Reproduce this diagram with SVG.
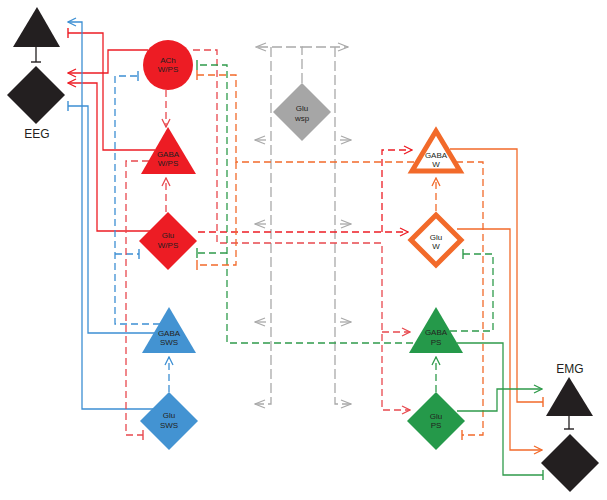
<svg xmlns="http://www.w3.org/2000/svg" width="607" height="500" viewBox="0 0 607 500">
<style>
.ln{fill:none;stroke-width:1.3}
.d{stroke-dasharray:7 4}
.dg{stroke-dasharray:10 4}
.r{stroke:#ed1c24}.rp{stroke:#e8484e}.b{stroke:#3c8fd3}.g{stroke:#2f9b4b}.o{stroke:#f26a2a}.gr{stroke:#a9a9a9}.k{stroke:#231f20}
.lbl{font-family:"Liberation Sans",Arial,sans-serif;font-size:8px;fill:#231f20;text-anchor:middle}
.big{font-family:"Liberation Sans",Arial,sans-serif;font-size:12px;fill:#231f20;text-anchor:middle}
</style>
<defs>
<marker id="aR" markerUnits="userSpaceOnUse" viewBox="0 0 10 10" refX="9" refY="5" markerWidth="10" markerHeight="10" orient="auto"><path d="M1,1 L9,5 L1,9" fill="none" stroke="#ed1c24" stroke-width="1.3"/></marker>
<marker id="aRp" markerUnits="userSpaceOnUse" viewBox="0 0 10 10" refX="9" refY="5" markerWidth="10" markerHeight="10" orient="auto"><path d="M1,1 L9,5 L1,9" fill="none" stroke="#e8484e" stroke-width="1.3"/></marker>
<marker id="aB" markerUnits="userSpaceOnUse" viewBox="0 0 10 10" refX="9" refY="5" markerWidth="10" markerHeight="10" orient="auto"><path d="M1,1 L9,5 L1,9" fill="none" stroke="#3c8fd3" stroke-width="1.3"/></marker>
<marker id="aG" markerUnits="userSpaceOnUse" viewBox="0 0 10 10" refX="9" refY="5" markerWidth="10" markerHeight="10" orient="auto"><path d="M1,1 L9,5 L1,9" fill="none" stroke="#2f9b4b" stroke-width="1.3"/></marker>
<marker id="aO" markerUnits="userSpaceOnUse" viewBox="0 0 10 10" refX="9" refY="5" markerWidth="10" markerHeight="10" orient="auto"><path d="M1,1 L9,5 L1,9" fill="none" stroke="#f26a2a" stroke-width="1.3"/></marker>
<marker id="aGr" markerUnits="userSpaceOnUse" viewBox="0 0 12 10" refX="11" refY="5" markerWidth="12" markerHeight="10" orient="auto"><path d="M1,1 L11,5 L1,9" fill="none" stroke="#a9a9a9" stroke-width="1.3"/></marker>
<marker id="tR" markerUnits="userSpaceOnUse" viewBox="0 0 4 12" refX="2" refY="6" markerWidth="4" markerHeight="12" orient="auto"><path d="M2,1 L2,11" stroke="#ed1c24" stroke-width="1.4"/></marker>
<marker id="tRp" markerUnits="userSpaceOnUse" viewBox="0 0 4 12" refX="2" refY="6" markerWidth="4" markerHeight="12" orient="auto"><path d="M2,1 L2,11" stroke="#e8484e" stroke-width="1.4"/></marker>
<marker id="tB" markerUnits="userSpaceOnUse" viewBox="0 0 4 12" refX="2" refY="6" markerWidth="4" markerHeight="12" orient="auto"><path d="M2,1 L2,11" stroke="#3c8fd3" stroke-width="1.4"/></marker>
<marker id="tG" markerUnits="userSpaceOnUse" viewBox="0 0 4 12" refX="2" refY="6" markerWidth="4" markerHeight="12" orient="auto"><path d="M2,1 L2,11" stroke="#2f9b4b" stroke-width="1.4"/></marker>
<marker id="tO" markerUnits="userSpaceOnUse" viewBox="0 0 4 12" refX="2" refY="6" markerWidth="4" markerHeight="12" orient="auto"><path d="M2,1 L2,11" stroke="#f26a2a" stroke-width="1.4"/></marker>
<marker id="tK" markerUnits="userSpaceOnUse" viewBox="0 0 4 12" refX="2" refY="6" markerWidth="4" markerHeight="12" orient="auto"><path d="M2,1 L2,11" stroke="#231f20" stroke-width="1.4"/></marker>
</defs>

<g id="connectors">
<!-- gray Glu wsp -->
<path class="ln gr dg" d="M302,83 V47 H256" marker-end="url(#aGr)"/>
<path class="ln gr dg" d="M302,47 H348" marker-end="url(#aGr)"/>
<path class="ln gr dg" d="M271,47 V404 H255" marker-end="url(#aGr)"/>
<path class="ln gr dg" d="M335,47 V404 H351" marker-end="url(#aGr)"/>
<path class="ln gr" d="M266,140 H255" marker-end="url(#aGr)"/>
<path class="ln gr" d="M340,140 H351" marker-end="url(#aGr)"/>
<path class="ln gr" d="M266,224 H255" marker-end="url(#aGr)"/>
<path class="ln gr" d="M340,224 H351" marker-end="url(#aGr)"/>
<path class="ln gr" d="M266,322 H255" marker-end="url(#aGr)"/>
<path class="ln gr" d="M340,322 H351" marker-end="url(#aGr)"/>

<!-- red solid to EEG -->
<path class="ln r" d="M155,150 H103 V33 H68" marker-end="url(#tR)"/>
<path class="ln r" d="M148,50 H108 V73 H68" marker-end="url(#aR)"/>
<path class="ln r" d="M150,231 H97 V83 H68" marker-end="url(#aR)"/>
<!-- blue solid to EEG -->
<path class="ln b" d="M153,409 H82 V22 H68" marker-end="url(#aB)"/>
<path class="ln b" d="M155,333 H88 V106 H68" marker-end="url(#tB)"/>
<!-- blue dashed GABA SWS -->
<path class="ln b d" d="M160,324 H115 V76 H138" marker-end="url(#tB)"/>
<path class="ln b d" d="M115,254 H139" marker-end="url(#tB)"/>
<path class="ln b d" d="M169,392 V357" marker-end="url(#aB)"/>
<!-- red dashed -->
<path class="ln rp d" d="M166,90 V127" marker-end="url(#aRp)"/>
<path class="ln rp d" d="M166,212 V178" marker-end="url(#aRp)"/>
<path class="ln rp d" d="M149,161 H126 V435 H143" marker-end="url(#tRp)"/>
<path class="ln rp d" d="M193,50 H217 V243 H382 V410 H410" marker-end="url(#aRp)"/>
<path class="ln rp d" d="M382,332 H410" marker-end="url(#aRp)"/>
<path class="ln r d" d="M198,232 H408" marker-end="url(#aR)"/>
<path class="ln r d" d="M382,232 V150 H412" marker-end="url(#aR)"/>
<!-- green dashed -->
<path class="ln g d" d="M413,343 H227 V65 H197" marker-end="url(#tG)"/>
<path class="ln g d" d="M227,253 H197" marker-end="url(#tG)"/>
<path class="ln g d" d="M450,331 H493 V254 H463" marker-end="url(#tG)"/>
<path class="ln g d" d="M436,392 V357" marker-end="url(#aG)"/>
<!-- orange dashed -->
<path class="ln o d" d="M445,162 H483 V435 H462" marker-end="url(#tO)"/>
<path class="ln o d" d="M425,162 H236 V75 H197" marker-end="url(#tO)"/>
<path class="ln o d" d="M236,162 V265 H197" marker-end="url(#tO)"/>
<path class="ln o d" d="M436,211 V178" marker-end="url(#aO)"/>
<!-- to EMG -->
<path class="ln o" d="M450,149 H517 V402 H543" marker-end="url(#tO)"/>
<path class="ln o" d="M457,229 H510 V450 H542" marker-end="url(#aO)"/>
<path class="ln g" d="M457,343 H503 V475 H543" marker-end="url(#tG)"/>
<path class="ln g" d="M457,411 H497 V389 H542" marker-end="url(#aG)"/>
<!-- black EEG / EMG -->
<path class="ln k" d="M36,47 V62" marker-end="url(#tK)"/>
<path class="ln k" d="M569,416 V429" marker-end="url(#tK)"/>
</g>

<g id="eeg">
<polygon points="37,7 13,47 60,47" fill="#231f20"/>
<polygon points="36,66 65,95 36,124 7,95" fill="#231f20"/>
<text class="big" x="37" y="138">EEG</text>
</g>
<g id="emg">
<text class="big" x="570" y="373">EMG</text>
<polygon points="569,377 546,416 593,416" fill="#231f20"/>
<polygon points="570,434 599,463 570,492 541,463" fill="#231f20"/>
</g>

<g id="ach-wps">
<circle cx="168" cy="65" r="25" fill="#ed1c24"/>
<text class="lbl" x="168" y="63">ACh</text>
<text class="lbl" x="168" y="72">W/PS</text>
</g>
<g id="gaba-wps">
<polygon points="168,127 141,174 196,174" fill="#ed1c24"/>
<text class="lbl" x="168" y="157">GABA</text>
<text class="lbl" x="168" y="166">W/PS</text>
</g>
<g id="glu-wps">
<polygon points="168,212 197,241 168,270 139,241" fill="#ed1c24"/>
<text class="lbl" x="168" y="238">Glu</text>
<text class="lbl" x="168" y="248">W/PS</text>
</g>
<g id="gaba-sws">
<polygon points="169,307 142,353 196,353" fill="#4393d2"/>
<text class="lbl" x="169" y="336">GABA</text>
<text class="lbl" x="169" y="345">SWS</text>
</g>
<g id="glu-sws">
<polygon points="169,392 198,421 169,450 140,421" fill="#4393d2"/>
<text class="lbl" x="169" y="418">Glu</text>
<text class="lbl" x="169" y="428">SWS</text>
</g>
<g id="glu-wsp">
<polygon points="302,83 331,112 302,141 273,112" fill="#a6a6a6"/>
<text class="lbl" x="302" y="111">Glu</text>
<text class="lbl" x="302" y="121">wsp</text>
</g>
<g id="gaba-w">
<polygon points="436,131 412,171 460,171" fill="#ffffff" stroke="#f26a2a" stroke-width="5" stroke-linejoin="miter"/>
<text class="lbl" x="436" y="158">GABA</text>
<text class="lbl" x="436" y="167">W</text>
</g>
<g id="glu-w">
<polygon points="436,215 461,240 436,265 411,240" fill="#ffffff" stroke="#f26a2a" stroke-width="5" stroke-linejoin="miter"/>
<text class="lbl" x="436" y="240">Glu</text>
<text class="lbl" x="436" y="249">W</text>
</g>
<g id="gaba-ps">
<polygon points="436,307 409,353 463,353" fill="#25994a"/>
<text class="lbl" x="436" y="335">GABA</text>
<text class="lbl" x="436" y="345">PS</text>
</g>
<g id="glu-ps">
<polygon points="436,392 465,421 436,450 407,421" fill="#25994a"/>
<text class="lbl" x="436" y="419">Glu</text>
<text class="lbl" x="436" y="428">PS</text>
</g>
</svg>
